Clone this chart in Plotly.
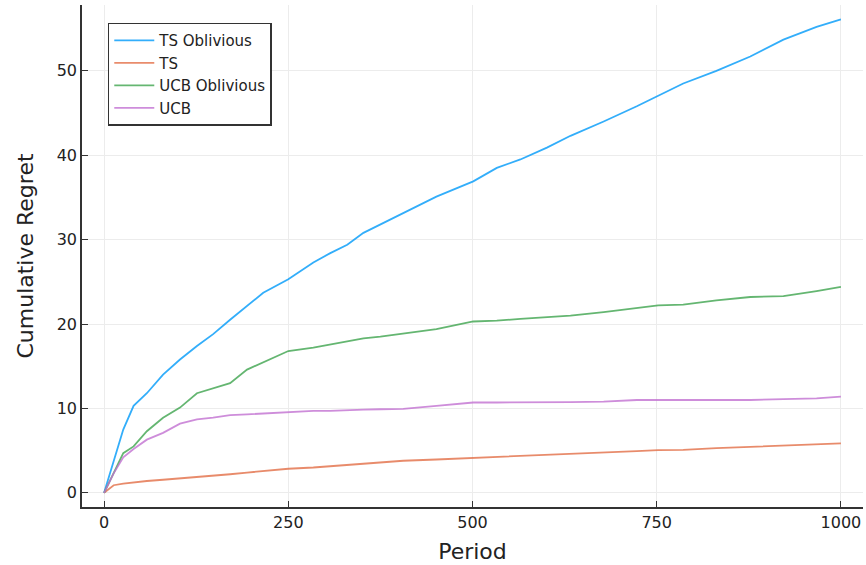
import plotly.graph_objects as go

period = [0, 13, 26, 40, 58, 80, 103, 126, 148, 171, 194, 216, 250, 284, 307, 330,
          352, 375, 406, 451, 501, 533, 565, 601, 633, 678, 723, 752, 786, 831, 877,
          922, 967, 1000]

ts_oblivious = [0, 3.9, 7.5, 10.3, 11.8, 14.0, 15.8, 17.4, 18.8, 20.5, 22.1, 23.7, 25.3,
                27.3, 28.4, 29.4, 30.8, 31.8, 33.2, 35.1, 36.9, 38.5, 39.5, 40.9, 42.3,
                44.0, 45.8, 47.0, 48.5, 50.0, 51.7, 53.7, 55.2, 56.1]

ts = [0, 0.9, 1.1, 1.25, 1.4, 1.55, 1.7, 1.85, 2.05, 2.2, 2.4, 2.6, 2.85, 3.0, 3.15, 3.3,
      3.45, 3.55, 3.8, 3.95, 4.15, 4.25, 4.35, 4.5, 4.6, 4.8, 4.95, 5.05, 5.1, 5.3, 5.45,
      5.6, 5.75, 5.85]

ucb_oblivious = [0, 2.4, 4.7, 5.5, 7.3, 8.9, 10.1, 11.8, 12.4, 13.0, 14.6, 15.5, 16.8,
                 17.2, 17.6, 18.0, 18.3, 18.5, 18.9, 19.4, 20.3, 20.4, 20.6, 20.8, 21.0,
                 21.4, 21.9, 22.2, 22.3, 22.8, 23.2, 23.3, 23.9, 24.4]

ucb = [0, 2.3, 4.2, 5.2, 6.3, 7.1, 8.2, 8.7, 8.9, 9.2, 9.3, 9.4, 9.6, 9.7, 9.7, 9.8,
       9.85, 9.9, 9.95, 10.3, 10.7, 10.7, 10.7, 10.75, 10.75, 10.8, 11.0, 11.0, 11.0,
       11.0, 11.0, 11.1, 11.2, 11.4]

x_ticks = [0, 250, 500, 750, 1000]
y_ticks = [0, 10, 20, 30, 40, 50]

series = [
    ("TS Oblivious", ts_oblivious, "#009AFA"),
    ("TS", ts, "#E36F47"),
    ("UCB Oblivious", ucb_oblivious, "#3EA44E"),
    ("UCB", ucb, "#C271D2"),
]

fig = go.Figure()
for name, vals, color in series:
    fig.add_trace(go.Scatter(x=period, y=vals, mode="lines", name=name,
                             line=dict(color=color, width=1.8), opacity=0.8))

font_family = "DejaVu Sans"
fig.update_layout(
    width=866, height=565,
    margin=dict(l=82, r=3, t=5, b=58),
    plot_bgcolor="white", paper_bgcolor="white",
    font=dict(family=font_family, color="#222222"),
    legend=dict(x=0.033, y=0.965, xanchor="left", yanchor="top",
                bordercolor="#333333", borderwidth=1.5, bgcolor="white",
                font=dict(size=15, family=font_family, color="#222222"),
                tracegroupgap=0, itemwidth=40, entrywidth=190),
    xaxis=dict(range=[-30, 1030], tickvals=x_ticks, ticktext=[str(v) for v in x_ticks],
               automargin=False,
               showline=True, linecolor="#333333", linewidth=1.5,
               ticks="inside", ticklen=6, tickcolor="#333333", tickwidth=1.2,
               showgrid=True, gridcolor="#ececec", gridwidth=1, zeroline=False,
               tickfont=dict(size=16),
               title=dict(text="Period", font=dict(size=22), standoff=13)),
    yaxis=dict(range=[-1.68, 57.8], tickvals=y_ticks, ticktext=[str(v) for v in y_ticks],
               automargin=False,
               showline=True, linecolor="#333333", linewidth=1.5,
               ticks="inside", ticklen=6, tickcolor="#333333", tickwidth=1.2,
               showgrid=True, gridcolor="#ececec", gridwidth=1, zeroline=False,
               tickfont=dict(size=16),
               title=dict(text="Cumulative Regret", font=dict(size=22), standoff=17)),
)

fig.write_html("out.html", config={"displayModeBar": False},
               post_script="document.body.style.margin='0';document.body.style.overflow='hidden';")
